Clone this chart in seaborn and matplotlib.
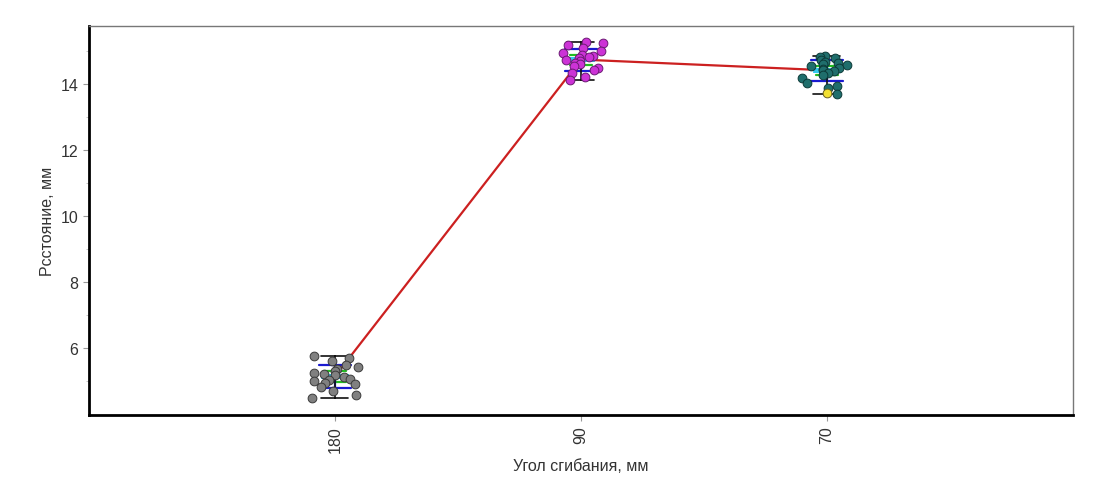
import numpy as np
import pandas as pd
import seaborn as sns
import matplotlib.pyplot as plt

# distances for each bending angle
angles = ['180', '90', '70']
d180 = [5.75, 5.70, 5.62, 5.50, 5.42, 5.36, 5.30, 5.26, 5.22, 5.18,
        5.12, 5.08, 5.03, 4.99, 4.95, 4.90, 4.82, 4.70, 4.58, 4.48]
d90 = [15.27, 15.25, 15.18, 15.10, 15.02, 14.96, 14.90, 14.86, 14.82, 14.78,
       14.74, 14.70, 14.65, 14.60, 14.55, 14.48, 14.42, 14.33, 14.22, 14.12]
d70 = [14.85, 14.82, 14.78, 14.72, 14.68, 14.64, 14.60, 14.57, 14.54, 14.50,
       14.47, 14.44, 14.40, 14.35, 14.28, 14.20, 14.05, 13.95, 13.90, 13.70]
d70_marked = [13.73]   # the yellow point

point_colors = ['#808080', '#cc33d6', '#1f6e6c']
edge_colors = ['#3a3a3a', '#6b1a73', '#0c3a38']

df = pd.DataFrame({
    'angle': ['180'] * len(d180) + ['90'] * len(d90) + ['70'] * len(d70),
    'dist': d180 + d90 + d70,
})
df['angle'] = pd.Categorical(df['angle'], categories=angles, ordered=True)

sns.set_style('white')
plt.rcParams['font.family'] = ['Liberation Sans', 'DejaVu Sans']

fig = plt.figure(figsize=(11.05, 4.85), dpi=100)
ax = fig.add_axes([0.0805, 0.142, 0.8905, 0.802])

np.random.seed(7)

# cyan box = mean +- se
sns.pointplot(data=df, x='angle', y='dist', order=angles, errorbar='se',
              linestyle='none', marker='', color='#33c8f0',
              err_kws={'linewidth': 20, 'solid_capstyle': 'butt', 'zorder': 3}, ax=ax)
# green = 95% ci
sns.pointplot(data=df, x='angle', y='dist', order=angles, errorbar=('ci', 95),
              seed=1, linestyle='none', marker='', color='#22bb22', capsize=0.09,
              err_kws={'linewidth': 1.6, 'zorder': 3}, ax=ax)
# blue = sd
sns.pointplot(data=df, x='angle', y='dist', order=angles, errorbar='sd',
              linestyle='none', marker='', color='#1a1ad0', capsize=0.13,
              err_kws={'linewidth': 1.6, 'zorder': 3}, ax=ax)
# black = full range
sns.pointplot(data=df, x='angle', y='dist', order=angles, errorbar=('pi', 100),
              linestyle='none', marker='', color='#111111', capsize=0.11,
              err_kws={'linewidth': 1.2, 'zorder': 3}, ax=ax)

# red line through the means
sns.pointplot(data=df, x='angle', y='dist', order=angles, errorbar=None,
              marker='', color='#cc2020', linewidth=1.6, ax=ax)

for ang, col, ec in zip(angles, point_colors, edge_colors):
    sub = df[df['angle'] == ang]
    sns.stripplot(data=sub, x='angle', y='dist', order=angles, jitter=0.1,
                  color=col, edgecolor=ec, linewidth=0.7, size=6.3, ax=ax, zorder=5)
marked = pd.DataFrame({'angle': ['70'] * len(d70_marked), 'dist': d70_marked})
sns.stripplot(data=marked, x='angle', y='dist', order=angles, jitter=0.04,
              color='#f2e032', edgecolor='#6a6020', linewidth=0.7, size=6.3,
              ax=ax, zorder=6)

ax.set_xlim(-1, 3)
ax.set_ylim(3.97, 15.76)
ax.set_yticks([6, 8, 10, 12, 14])
ax.set_yticks(np.arange(5, 16, 1), minor=True)
ax.set_xlabel('Угол сгибания, мм', fontsize=11.5, color='#333333')
ax.set_ylabel('Рсстояние, мм', fontsize=11.5, color='#333333')
ax.tick_params(axis='both', which='major', length=4, width=0.8, color='#999999',
               labelsize=11.5, labelcolor='#333333', left=True, bottom=True)
ax.tick_params(axis='y', which='minor', length=2, width=0.6, color='#bbbbbb', left=True)
plt.setp(ax.get_xticklabels(), rotation=90)

for side in ['left', 'bottom']:
    ax.spines[side].set_color('black')
    ax.spines[side].set_linewidth(2)
for side in ['top', 'right']:
    ax.spines[side].set_color('#777777')
    ax.spines[side].set_linewidth(1)

fig.savefig('out.png', dpi=100)
